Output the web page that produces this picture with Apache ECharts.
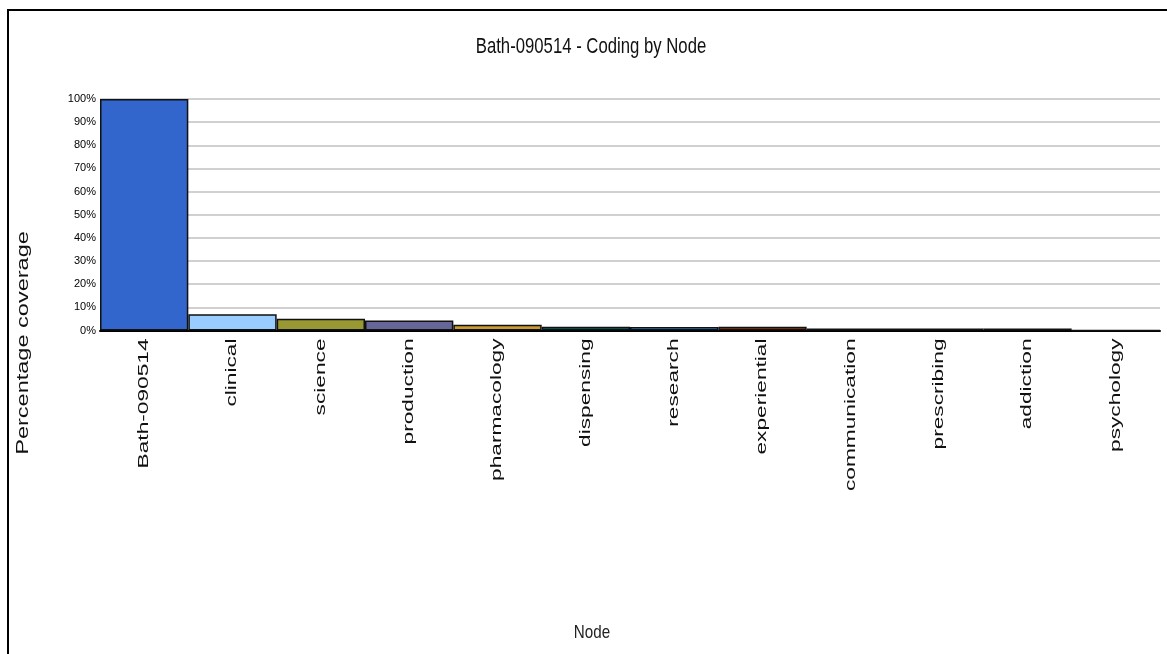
<!DOCTYPE html>
<html>
<head>
<meta charset="utf-8">
<script src="https://cdn.jsdelivr.net/npm/echarts@6/dist/echarts.min.js"></script>
<style>
html,body{margin:0;padding:0;background:#fff;}
#frame{position:absolute;left:7px;top:9px;width:1160px;height:645px;border-left:2px solid #000;border-top:2px solid #000;box-sizing:border-box;}
#chart{position:absolute;left:0;top:0;width:1167px;height:654px;}
</style>
</head>
<body>
<div id="frame"></div>
<div id="chart"></div>
<script>
const categories = ['Bath-090514','clinical','science','production','pharmacology','dispensing','research','experiential','communication','prescribing','addiction','psychology'];
const coverage = [100, 7.0, 5.1, 4.3, 2.5, 1.6, 1.5, 1.6, 0.9, 0.9, 0.9, 0.1];
const barColors = ['#3366cc','#99ccff','#999933','#666699','#cc9933','#006666','#3399ff','#993300','#222222','#222222','#222222','#cccc99'];
const yTicks = [0,10,20,30,40,50,60,70,80,90,100];
const titleText = 'Bath-090514 - Coding by Node';
const xName = 'Node';
const yName = 'Percentage coverage';

const chart = echarts.init(document.getElementById('chart'), null, {renderer:'canvas'});
chart.setOption({
  backgroundColor: 'transparent',
  animation: false,
  graphic: [
    {type:'text', x:591, y:47, scaleX:0.76, originX:0, originY:0,
     style:{text:titleText, font:'22px "Liberation Sans"', fill:'#111', align:'center', verticalAlign:'middle'}},
    {type:'text', x:592, y:633, scaleX:0.8,
     style:{text:xName, font:'19px "Liberation Sans"', fill:'#222', align:'center', verticalAlign:'middle'}},
    {type:'text', x:24, y:343, rotation:Math.PI/2, scaleX:1.47,
     style:{text:yName, font:'16px "Liberation Sans"', fill:'#111', align:'center', verticalAlign:'middle'}}
  ],
  grid: {left: 100, right: 7, top: 99, bottom: 323.5},
  xAxis: {
    type: 'category',
    data: categories,
    axisLine: {lineStyle: {color: '#000', width: 2}},
    axisTick: {show: false},
    axisLabel: {show: false}
  },
  yAxis: {
    type: 'value',
    min: yTicks[0], max: yTicks[yTicks.length-1], interval: 10,
    axisLine: {show: false},
    axisTick: {show: false},
    axisLabel: {formatter: '{value}%', margin: 4, fontFamily: 'Liberation Sans', fontSize: 11, color: '#000'},
    splitLine: {lineStyle: {color: '#d0d0d0', width: 2}}
  },
  series: [{
    type: 'bar',
    barCategoryGap: '0%',
    data: coverage.map((v,i)=>({value:v, itemStyle:{color: barColors[i]}})),
    itemStyle: {borderColor: '#111', borderWidth: 1.5}
  },{
    type: 'custom',
    clip: false,
    silent: true,
    data: categories.map((c,i)=>[i,0]),
    renderItem: function(params, api){
      const p = api.coord([api.value(0), 0]);
      return {
        type:'text',
        x: p[0], y: p[1] + 8,
        rotation: Math.PI/2,
        scaleX: 1.62,
        style:{text: categories[params.dataIndex], font:'14px "Liberation Sans"', fill:'#111', align:'right', verticalAlign:'middle'}
      };
    }
  }]
});
</script>
</body>
</html>
